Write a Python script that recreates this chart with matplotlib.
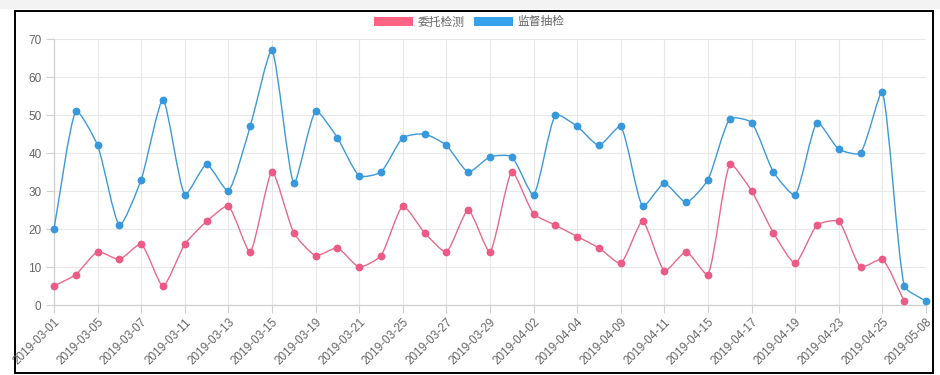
import numpy as np
import matplotlib as mpl
mpl.use('Agg')
import matplotlib.pyplot as plt
from matplotlib.path import Path
from matplotlib.patches import PathPatch, Patch, Rectangle

plt.rcParams['font.family'] = ['Liberation Sans', 'Noto Sans CJK SC', 'DejaVu Sans']

# dates (only every other one is shown on the axis, like the original)
dates = ['2019-03-01', '2019-03-04', '2019-03-05', '2019-03-06', '2019-03-07',
         '2019-03-08', '2019-03-11', '2019-03-12', '2019-03-13', '2019-03-14',
         '2019-03-15', '2019-03-18', '2019-03-19', '2019-03-20', '2019-03-21',
         '2019-03-22', '2019-03-25', '2019-03-26', '2019-03-27', '2019-03-28',
         '2019-03-29', '2019-04-01', '2019-04-02', '2019-04-03', '2019-04-04',
         '2019-04-08', '2019-04-09', '2019-04-10', '2019-04-11', '2019-04-12',
         '2019-04-15', '2019-04-16', '2019-04-17', '2019-04-18', '2019-04-19',
         '2019-04-22', '2019-04-23', '2019-04-24', '2019-04-25', '2019-04-26',
         '2019-05-08']

weituo = [5, 8, 14, 12, 16, 5, 16, 22, 26, 14, 35, 19, 13, 15, 10, 13, 26, 19, 14, 25,
          14, 35, 24, 21, 18, 15, 11, 22, 9, 14, 8, 37, 30, 19, 11, 21, 22, 10, 12, 1,
          None]
jiandu = [20, 51, 42, 21, 33, 54, 29, 37, 30, 47, 67, 32, 51, 44, 34, 35, 44, 45, 42, 35,
          39, 39, 29, 50, 47, 42, 47, 26, 32, 27, 33, 49, 48, 35, 29, 48, 41, 40, 56, 5,
          1]

series_names = ['委托检测', '监督抽检']
line_colors = ['#e8698c', '#3b9ad8']
dot_colors = ['#ec5a86', '#3898dc']
legend_colors = ['#ff6384', '#36a2eb']

W, H = 940, 375
fig = plt.figure(figsize=(W / 100, H / 100), dpi=100)

# page strip and the black frame around the chart
fig.patches.append(Rectangle((0, 1 - 9 / H), 1, 9 / H, transform=fig.transFigure,
                             facecolor='#f3f3f3', edgecolor='none', zorder=0))
fig.patches.append(Rectangle((15 / W, 2 / H), 918 / W, 362 / H, transform=fig.transFigure,
                             facecolor='white', edgecolor='black', lw=1.4, zorder=1))

ax = fig.add_axes([54 / W, 1 - 305 / H, (926 - 54) / W, (305 - 39) / H])
ax.set_facecolor('none')
ax.set_zorder(2)
n = len(dates)
x = np.arange(n)
ax.set_xlim(0, n - 1)
ax.set_ylim(0, 70)
ax.set_yticks(range(0, 71, 10))
ax.set_xticks(x[::2])
ax.set_xticklabels(dates[::2], rotation=45, ha='right', rotation_mode='anchor')
ax.tick_params(axis='both', labelsize=8.5, labelcolor='#666666', color='#d0d0d0', length=6, width=0.8)
ax.tick_params(axis='x', pad=2)
ax.tick_params(axis='y', pad=3)
ax.grid(True, color='#e8e8e8', lw=0.8)
ax.set_axisbelow(True)
for side in ['top', 'right']:
    ax.spines[side].set_visible(False)
for side in ['left', 'bottom']:
    ax.spines[side].set_color('#cfcfcf')
    ax.spines[side].set_linewidth(0.9)


def spline_path(xs, ys, tension=0.2):
    # chart.js style bezier through the points, computed in pixel space
    pts = ax.transData.transform(np.column_stack([xs, ys]))
    ya, yb = ax.transData.transform([(0, 70), (0, 0)])[:, 1]
    lo, hi = min(ya, yb), max(ya, yb)
    verts = [pts[0]]
    codes = [Path.MOVETO]
    cps = []
    for i in range(len(pts)):
        p0 = pts[i - 1] if i > 0 else pts[i]
        p1 = pts[i]
        p2 = pts[i + 1] if i < len(pts) - 1 else pts[i]
        d01 = np.hypot(*(p1 - p0))
        d12 = np.hypot(*(p2 - p1))
        tot = d01 + d12
        s01 = d01 / tot if tot else 0
        s12 = d12 / tot if tot else 0
        c_prev = p1 - tension * s01 * (p2 - p0)
        c_next = p1 + tension * s12 * (p2 - p0)
        c_prev[1] = min(max(c_prev[1], lo), hi)
        c_next[1] = min(max(c_next[1], lo), hi)
        cps.append((c_prev, c_next))
    for i in range(1, len(pts)):
        verts += [cps[i - 1][1], cps[i][0], pts[i]]
        codes += [Path.CURVE4] * 3
    inv = ax.transData.inverted()
    return Path(inv.transform(np.array(verts)), codes)


handles = []
for vals, name, lc, dc, gc in zip([weituo, jiandu], series_names, line_colors, dot_colors, legend_colors):
    xs = [i for i, v in enumerate(vals) if v is not None]
    ys = [v for v in vals if v is not None]
    ax.add_patch(PathPatch(spline_path(xs, ys), facecolor='none', edgecolor=lc, lw=1.0,
                           zorder=3, clip_on=False))
    ax.plot(xs, ys, 'o', color=dc, markersize=4.6, zorder=4, clip_on=False)
    handles.append(Patch(facecolor=gc, edgecolor='none', label=name))

fig.legend(handles=handles, loc='center', bbox_to_anchor=(469 / W, 1 - 22 / H), ncol=2,
           frameon=False, labelcolor='#666666', handlelength=3.3,
           handleheight=0.9, handletextpad=0.4, columnspacing=0.8,
           prop={'family': ['Noto Sans CJK SC', 'DejaVu Sans'], 'size': 8.5})

fig.savefig('out.png', dpi=100)
